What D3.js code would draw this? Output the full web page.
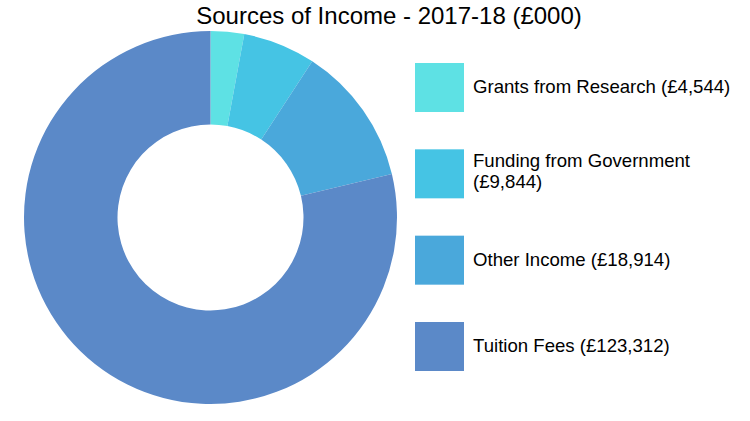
<!DOCTYPE html>
<html><head><meta charset="utf-8">
<script src="https://cdn.jsdelivr.net/npm/d3@7"></script>
<style>body{margin:0;background:#fff}svg{display:block}text{font-family:"Liberation Sans",Arial,sans-serif;fill:#000}</style>
</head><body><svg id="c" width="750" height="421"></svg>
<script>
const categories = ["Grants from Research", "Funding from Government", "Other Income", "Tuition Fees"];
const values = [4544, 9844, 18914, 123312];
const labelLines = [["Grants from Research (£4,544)"], ["Funding from Government", "(£9,844)"], ["Other Income (£18,914)"], ["Tuition Fees (£123,312)"]];
const colors = ["#5ee1e4", "#45c4e4", "#4aa8db", "#5b89c8"];
const title = "Sources of Income - 2017-18 (£000)";

const svg = d3.select("#c");
svg.append("text").attr("x", 389).attr("y", 24).attr("text-anchor", "middle")
  .attr("font-size", 24).text(title);

const data = categories.map((c, i) => ({ c, v: values[i], i }));
const pie = d3.pie().value(d => d.v).sort(null);
const arc = d3.arc().innerRadius(93).outerRadius(186.5);
const g = svg.append("g").attr("transform", "translate(210.5,217.5)");
g.selectAll("path").data(pie(data)).join("path")
  .attr("d", arc).attr("fill", d => colors[d.data.i]);

const color = d3.scaleOrdinal().domain(categories).range(colors);
const ly = d3.scalePoint().domain(categories).range([63, 322]);
const leg = svg.append("g");
const items = leg.selectAll("g").data(categories).join("g")
  .attr("transform", d => `translate(415,${ly(d)})`);
items.append("rect").attr("width", 49).attr("height", 49).attr("fill", d => color(d));
items.each(function (d, i) {
  const lines = labelLines[i];
  const t = d3.select(this).append("text").attr("font-size", 18.6);
  const lh = 21;
  const y0 = 30 - (lines.length - 1) * 12;
  lines.forEach((l, k) => t.append("tspan").attr("x", 58).attr("y", y0 + k * lh).text(l));
});
</script></body></html>
